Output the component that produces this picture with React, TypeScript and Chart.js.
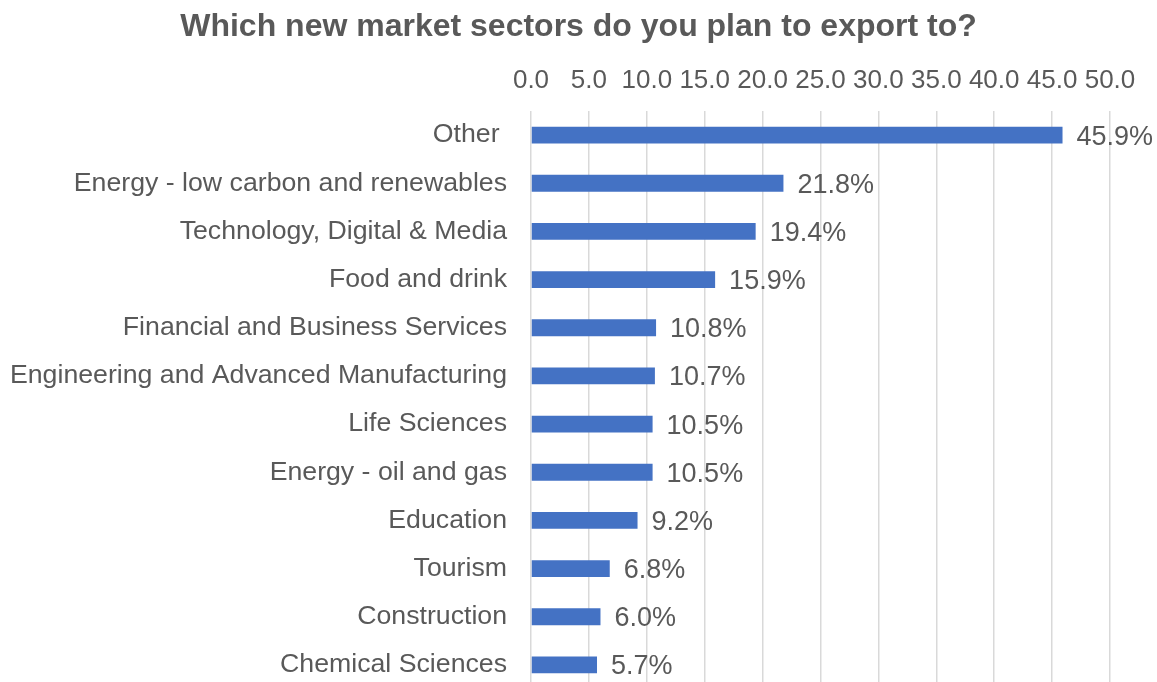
import React, { useEffect, useRef } from "react";
import { Chart, registerables } from "chart.js";

Chart.register(...registerables);

const TITLE = "Which new market sectors do you plan to export to?";
const categories = [
  "Other ",
  "Energy - low carbon and renewables",
  "Technology, Digital & Media",
  "Food and drink",
  "Financial and Business Services",
  "Engineering and Advanced Manufacturing",
  "Life Sciences",
  "Energy - oil and gas",
  "Education",
  "Tourism",
  "Construction",
  "Chemical Sciences",
];
const values = [45.9, 21.8, 19.4, 15.9, 10.8, 10.7, 10.5, 10.5, 9.2, 6.8, 6.0, 5.7];
const axisMin = 0;
const axisMax = 50;
const axisStep = 5;

const FONT = "'Liberation Sans', Arial, sans-serif";
const TEXT_COLOR = "#595959";
const BAR_COLOR = "#4472C4";

const dataLabelPlugin = {
  id: "dataLabels",
  afterDatasetsDraw(chart: any) {
    const ctx = chart.ctx;
    const meta = chart.getDatasetMeta(0);
    ctx.save();
    ctx.font = `27px ${FONT}`;
    ctx.fillStyle = TEXT_COLOR;
    ctx.textAlign = "left";
    ctx.textBaseline = "middle";
    meta.data.forEach((bar: any, i: number) => {
      const v = chart.data.datasets[0].data[i] as number;
      ctx.fillText(v.toFixed(1) + "%", bar.x + 14, bar.y + 2);
    });
    ctx.restore();
  },
};

export default function App() {
  const ref = useRef<HTMLCanvasElement | null>(null);
  useEffect(() => {
    if (!ref.current) return;
    const chart = new Chart(ref.current, {
      type: "bar",
      data: {
        labels: categories,
        datasets: [
          {
            data: values,
            backgroundColor: BAR_COLOR,
            borderWidth: 0,
            barPercentage: 0.7,
            categoryPercentage: 0.5,
          },
        ],
      },
      options: {
        indexAxis: "y",
        responsive: false,
        maintainAspectRatio: false,
        animation: false,
        layout: { padding: 0 },
        plugins: {
          legend: { display: false },
          tooltip: { enabled: false },
          title: {
            display: true,
            text: TITLE,
            color: TEXT_COLOR,
            font: { family: FONT, size: 32, weight: "bold" },
            padding: { top: 7.5, bottom: 5.1 },
          },
        },
        scales: {
          x: {
            position: "top",
            min: axisMin,
            max: axisMax,
            ticks: {
              stepSize: axisStep,
              color: TEXT_COLOR,
              font: { family: FONT, size: 26 },
              padding: 14.5,
              maxRotation: 0,
              autoSkip: false,
              callback: (v: any) => Number(v).toFixed(1),
            },
            grid: { color: "#d9d9d9", lineWidth: 1.5, drawTicks: false },
            border: { display: false },
            afterFit: (s: any) => {
              s.height = 60;
            },
          },
          y: {
            ticks: {
              color: TEXT_COLOR,
              font: { family: FONT, size: 26.7 },
              padding: 24,
              autoSkip: false,
            },
            grid: { display: false, drawTicks: false },
            border: { display: false },
            afterFit: (s: any) => {
              s.width = 531;
            },
          },
          yRight: {
            type: "category",
            position: "right",
            ticks: { display: false },
            grid: { display: false, drawTicks: false },
            border: { display: false },
            afterFit: (s: any) => {
              s.width = 47;
            },
          },
        },
      },
      plugins: [dataLabelPlugin],
    });
    return () => chart.destroy();
  }, []);
  return (
    <div
      style={{
        position: "fixed",
        left: 0,
        top: 0,
        width: 1157,
        height: 682,
        overflow: "hidden",
        background: "#fff",
      }}
    >
      <div style={{ width: 1157, height: 729 }}>
        <canvas ref={ref} width={1157} height={729} style={{ display: "block" }} />
      </div>
    </div>
  );
}
